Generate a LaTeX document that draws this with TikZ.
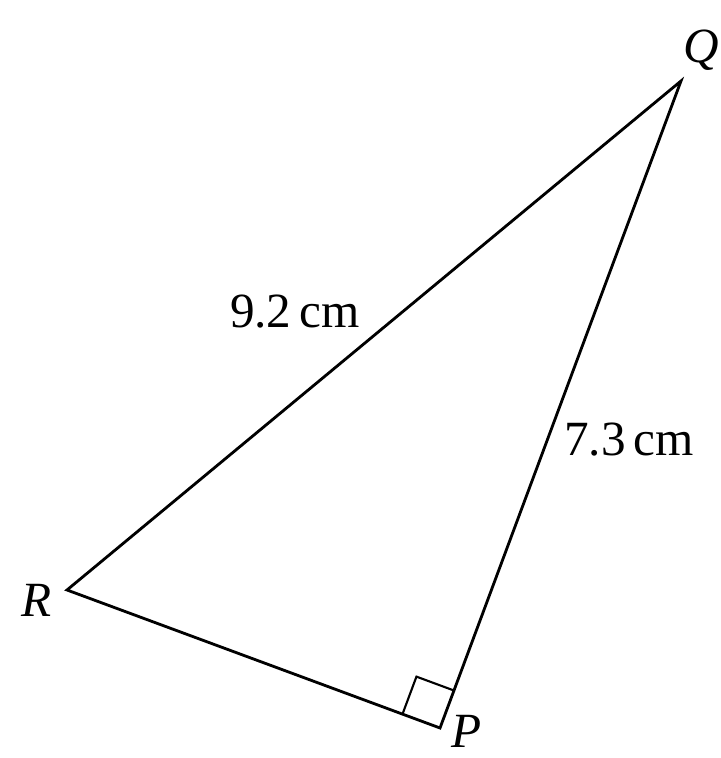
\documentclass[tikz,border=0pt]{standalone}
\usepackage{fontspec}
\setmainfont{Liberation Serif}
\usetikzlibrary{calc}
\begin{document}
\begin{tikzpicture}[every node/.style={font=\fontsize{28}{32}\selectfont},
  side/.style={line width=1.6pt,line join=miter},
  vlabel/.style={font=\fontsize{28}{32}\selectfont\itshape,inner sep=0pt}]
  \useasboundingbox (0,0) rectangle (14.4,15.16);
  \coordinate (Q) at (13.62,13.54);
  \coordinate (R) at (1.34,3.36);
  \coordinate (P) at (8.80,0.60);
  \draw[side] (R) -- (Q) -- (P) -- cycle;
  % right angle at P
  \coordinate (pr) at ($(P)!0.8cm!(R)$);
  \coordinate (pq) at ($(P)!0.8cm!(Q)$);
  \draw[line width=1.2pt] (pr) -- ($(pr)+(pq)-(P)$) -- (pq);
  \node[vlabel] (q) at (14.02,14.16) {Q};
  \node[vlabel] (r) at (0.74,3.16) {R};
  \node[vlabel] (p) at (9.34,0.54) {P};
  \node (rq) at (5.90,8.92) {9.2\,cm};
  \node (pqlen) at (12.58,6.36) {7.3\,cm};
\end{tikzpicture}
\end{document}
